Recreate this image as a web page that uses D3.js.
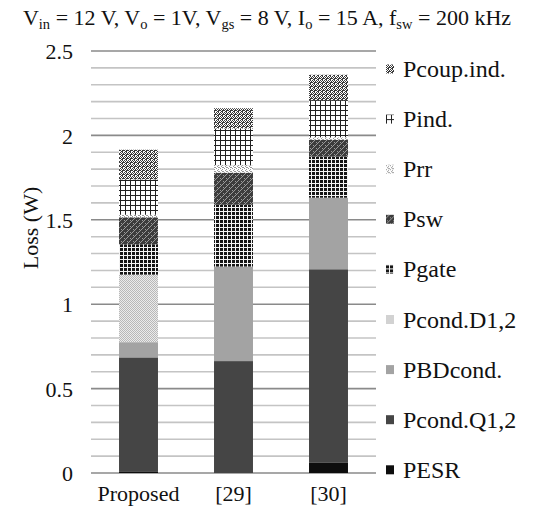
<!DOCTYPE html>
<html><head><meta charset="utf-8">
<script src="https://cdn.jsdelivr.net/npm/d3@7"></script>
<style>body{margin:0;background:#fff}svg{display:block}text{font-family:"Times New Roman",Times,"Liberation Serif","DejaVu Serif",serif;fill:#111}</style>
</head><body><svg id="c" width="534" height="518"></svg>
<script>
const categories = ["Proposed", "[29]", "[30]"];
const seriesNames = ["PESR", "Pcond.Q1,2", "PBDcond.", "Pcond.D1,2", "Pgate", "Psw", "Prr", "Pind.", "Pcoup.ind."];
const PESR      = [0.01, 0.0, 0.06];
const PcondQ    = [0.675, 0.663, 1.147];
const PBDcond   = [0.09, 0.56, 0.424];
const PcondD    = [0.40, 0.0, 0.0];
const Pgate     = [0.18, 0.366, 0.243];
const Psw       = [0.16, 0.19, 0.10];
const Prr       = [0.015, 0.045, 0.015];
const Pind      = [0.21, 0.217, 0.22];
const Pcoup     = [0.175, 0.12, 0.15];
const yTicks = [0, 0.5, 1, 1.5, 2, 2.5];
const seriesValues = [PESR, PcondQ, PBDcond, PcondD, Pgate, Psw, Prr, Pind, Pcoup];

const FONT = '"Times New Roman",Times,"Liberation Serif","DejaVu Serif",serif';
const svg = d3.select("#c");
const defs = svg.append("defs");
function pat(id, w, h, bg, draw) {
  const p = defs.append("pattern").attr("id", id).attr("patternUnits", "userSpaceOnUse")
    .attr("width", w).attr("height", h);
  p.append("rect").attr("width", w).attr("height", h).attr("fill", bg);
  draw(p);
}
function px(p, pts, c) { pts.forEach(([x, y]) => p.append("rect").attr("x", x).attr("y", y).attr("width", 1).attr("height", 1).attr("fill", c)); }
pat("pCoup", 4, 4, "#fff", p => px(p, [[0,0],[2,0],[1,1],[3,1],[0,2],[3,2],[1,3],[2,3],[2,2]], "#3a3a3a"));
pat("pInd", 5, 5, "#fff", p => { p.append("rect").attr("width",5).attr("height",1).attr("fill","#222"); p.append("rect").attr("width",1).attr("height",5).attr("fill","#222"); });
pat("pRr", 4, 4, "#fff", p => px(p, [[0,0],[2,1],[1,2],[3,3],[2,3]], "#9a9a9a"));
pat("pSw", 6, 6, "#3c3c3c", p => px(p, [[1,1],[2,2],[1,3],[4,4],[5,5],[4,0],[3,1],[0,4]], "#9a9a9a"));
pat("pGate", 4, 4, "#f4f4f4", p => p.append("rect").attr("width",3).attr("height",3).attr("fill","#151515"));
pat("pD", 2, 2, "#ebebeb", p => px(p, [[0,0],[1,1]], "#b8b8b8"));
const fills = ["#0d0d0d", "#454545", "#a3a3a3", "url(#pD)", "url(#pGate)", "url(#pSw)", "url(#pRr)", "url(#pInd)", "url(#pCoup)"];

const x = d3.scaleBand().domain(categories).range([91, 376]).paddingInner(0.59).paddingOuter(0.295);
const y = d3.scaleLinear().domain([0, 2.5]).range([473, 51]);

// gridlines
const minor = d3.range(0, 26).map(i => i / 10);
svg.append("g").selectAll("line").data(minor).join("line")
  .attr("x1", 91).attr("x2", 376)
  .attr("y1", d => y(d)).attr("y2", d => y(d))
  .attr("stroke", (d, i) => i % 5 === 0 ? "#8a8a8a" : "#c4c4c4")
  .attr("stroke-width", 1.6);

// y axis labels
const ya = d3.axisLeft(y).tickValues(yTicks).tickSize(0).tickPadding(0).tickFormat(d3.format("~g"));
const gy = svg.append("g").attr("transform", "translate(73,0)").call(ya);
gy.attr("font-family", FONT).attr("font-size", 22);
gy.select(".domain").remove();
gy.selectAll("text").attr("fill", "#111").attr("dy", "0.35em");

// stacked bars
const stackData = categories.map((c, i) => {
  const o = { cat: c };
  seriesNames.forEach((s, k) => o[s] = seriesValues[k][i]);
  return o;
});
const stacked = d3.stack().keys(seriesNames)(stackData);
svg.append("g").selectAll("g").data(stacked).join("g")
  .attr("fill", (d, i) => fills[i])
  .selectAll("rect").data(d => d).join("rect")
  .attr("x", d => x(d.data.cat)).attr("width", x.bandwidth())
  .attr("y", d => y(d[1])).attr("height", d => Math.max(0, y(d[0]) - y(d[1])));

// x axis labels
const xa = d3.axisBottom(x).tickSize(0).tickPadding(0);
const gx = svg.append("g").attr("transform", "translate(0,473)").call(xa);
gx.attr("font-family", FONT).attr("font-size", 22);
gx.select(".domain").remove();
gx.selectAll("text").attr("fill", "#111").attr("dy", "1.25em");

// y label
svg.append("text").attr("transform", "translate(38,228) rotate(-90)")
  .attr("text-anchor", "middle").attr("font-size", 22).text("Loss (W)");

// legend
const legendOrder = seriesNames.map((s, i) => i).reverse();
const lg = svg.append("g").selectAll("g").data(legendOrder).join("g")
  .attr("transform", (d, j) => `translate(386,${69 + j * 50.1})`);
lg.append("rect").attr("x", 0).attr("y", -4.5).attr("width", 8).attr("height", 9).attr("fill", d => fills[d]);
lg.append("text").attr("x", 17).attr("y", 8).attr("font-size", 24).text(d => seriesNames[d]);

// title
const t = svg.append("text").attr("x", 267).attr("y", 25).attr("text-anchor", "middle").attr("font-size", 22);
const parts = [["V",""],["in","sub"],[" = 12 V, V",""],["o","sub"],[" = 1V, V",""],["gs","sub"],[" = 8 V, I",""],["o","sub"],[" = 15 A, f",""],["sw","sub"],[" = 200 kHz",""]];
parts.forEach(([s, k], i) => {
  const ts = t.append("tspan").text(s);
  if (k === "sub") ts.attr("font-size", 14.5).attr("dy", 4);
  else if (i > 0) ts.attr("dy", -4);
});
</script></body></html>
